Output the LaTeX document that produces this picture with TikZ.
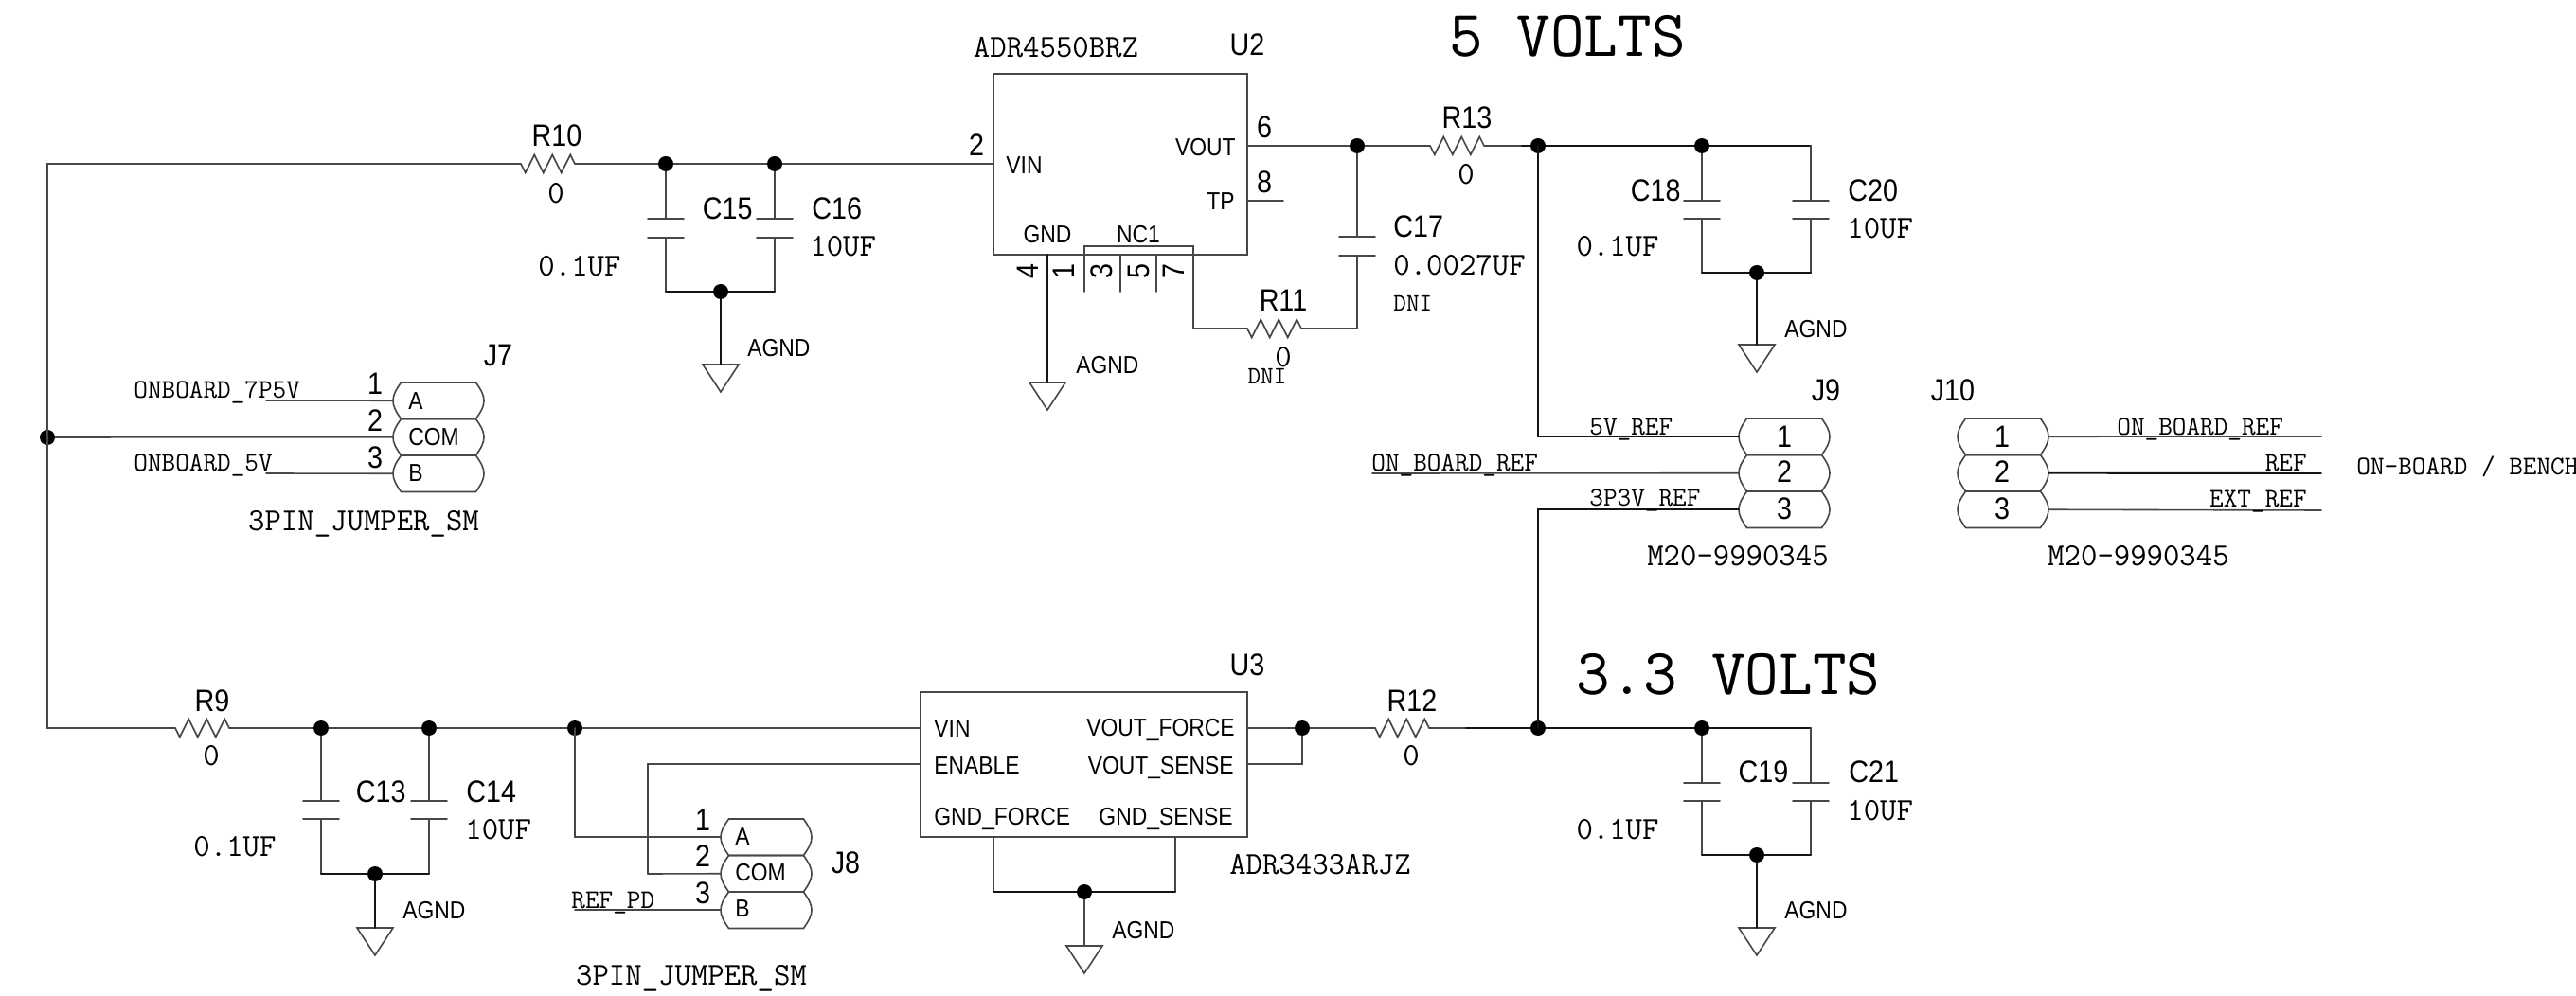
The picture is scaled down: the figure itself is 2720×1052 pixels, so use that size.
\documentclass[tikz,border=0pt]{standalone}
\usepackage{fontspec}
\setmainfont[FakeStretch=0.88]{Liberation Sans}
\tikzset{
  wire/.style={line width=0.8pt,draw=black!72,line cap=round,line join=miter},
  wireb/.style={line width=0.95pt,draw=black!92,line cap=round},
  dot/.style={circle,fill=black,inner sep=0pt,minimum size=8pt},
  chip/.style={draw=black!72,line width=0.8pt,fill=none,inner sep=0pt},
  sl/.style={font=\fontsize{16.3}{18}\selectfont,text height=11.67pt,text depth=0pt,inner sep=0pt},
  ss/.style={font=\fontsize{13}{14}\selectfont,text height=9.31pt,text depth=0pt,inner sep=0pt},
  tS/.style={font=\ttfamily\fontsize{14.2}{15}\selectfont,text height=8.68pt,text depth=0pt,inner sep=0pt},
  tM/.style={font=\ttfamily\fontsize{16.9}{18}\selectfont,text height=10.33pt,text depth=0pt,inner sep=0pt},
  tB/.style={font=\ttfamily\fontsize{34.6}{36}\selectfont,text height=21.1pt,text depth=0pt,inner sep=0pt},
  tD/.style={font=\ttfamily\fontsize{13.2}{15}\selectfont,text height=8.06pt,text depth=0pt,inner sep=0pt},
}
\newcommand\resistor[3]{%
  \begin{scope}[shift={(#2,#3)}]
    \coordinate (#1-l) at (0,0);
    \coordinate (#1-r) at (57,0);
    \draw[wire] (#1-l) -- (4.75,9.5) -- (14.25,-9.5) -- (23.75,9.5) -- (33.25,-9.5) -- (42.75,9.5) -- (52.25,-9.5) -- (#1-r);
  \end{scope}}
\newcommand\capac[4]{%
  \coordinate (#1-t) at (#2,#3);
  \coordinate (#1-b) at (#2,#4);
  \begin{scope}[shift={(#2,0)}]
    \draw[wire] (-19,#3) -- (19,#3);
    \draw[wire] (-19,#4) -- (19,#4);
  \end{scope}}
\newcommand\gndsym[3]{%
  \coordinate (#1) at (#2,#3);
  \begin{scope}[shift={(#2,#3)}]
    \draw[wire] (-19,0) -- (19,0) -- (0,29) -- cycle;
  \end{scope}}
\newcommand\pillrow[3]{%
  \begin{scope}[shift={(#2,#3)}]
    \coordinate (#1-l) at (0,19.25);
    \coordinate (#1-r) at (96,19.25);
    \draw[wire] (8.5,0) -- (87.5,0) .. controls (93,8) and (96,13) .. (96,19.25) .. controls (96,25.5) and (93,30.5) .. (87.5,38.5) -- (8.5,38.5) .. controls (3,30.5) and (0,25.5) .. (0,19.25) .. controls (0,13) and (3,8) .. (8.5,0) -- cycle;
  \end{scope}}
\begin{document}
\begin{tikzpicture}[x=0.5pt,y=-0.5pt]
\path[use as bounding box,fill=white] (0,0) rectangle (2720,1052);

% --- chips
\node[chip,minimum width=134pt,minimum height=95.5pt] (U2) at (1183,173.5) {};
\node[chip,minimum width=172.5pt,minimum height=76.5pt] (U3) at (1144.5,807.5) {};

% --- symbols
\resistor{R10}{550}{173}
\resistor{R13}{1510}{154}
\resistor{R11}{1317}{347}
\resistor{R9}{185}{769}
\resistor{R12}{1452}{769}
\capac{C15}{703}{231}{251}
\capac{C16}{818}{231}{251}
\capac{C17}{1433}{250}{270}
\capac{C18}{1797}{212}{231}
\capac{C20}{1912}{212}{231}
\capac{C13}{339}{846}{865}
\capac{C14}{453}{846}{865}
\capac{C19}{1797}{827}{846}
\capac{C21}{1912}{827}{846}
\gndsym{G1}{761}{385}
\gndsym{G2}{1106}{404}
\gndsym{G3}{1855}{364}
\gndsym{G4}{396}{980}
\gndsym{G5}{1145}{999}
\gndsym{G6}{1855}{980}
\pillrow{J7a}{415}{404}
\pillrow{J7b}{415}{442.5}
\pillrow{J7c}{415}{481}
\pillrow{J8a}{761}{865}
\pillrow{J8b}{761}{903.5}
\pillrow{J8c}{761}{942}
\pillrow{J9a}{1836}{442}
\pillrow{J9b}{1836}{480.5}
\pillrow{J9c}{1836}{519}
\pillrow{J10a}{2067}{442}
\pillrow{J10b}{2067}{480.5}
\pillrow{J10c}{2067}{519}

% --- junction dots
\node[dot] (dJ7) at (50,462) {};
\node[dot] (d15) at (703,173) {};
\node[dot] (d16) at (818,173) {};
\node[dot] (d15b) at (761,308) {};
\node[dot] (d17) at (1433,154) {};
\node[dot] (d5) at (1624,154) {};
\node[dot] (d18) at (1797,154) {};
\node[dot] (d18b) at (1855,288) {};
\node[dot] (d13) at (339,769) {};
\node[dot] (d14) at (453,769) {};
\node[dot] (dv) at (607,769) {};
\node[dot] (d13b) at (396,923) {};
\node[dot] (dU3o) at (1375,769) {};
\node[dot] (dU3g) at (1145,942) {};
\node[dot] (d33) at (1624,769) {};
\node[dot] (d19) at (1797,769) {};
\node[dot] (d19b) at (1855,903) {};

% --- pin and corner coordinates
\coordinate (U2vin) at (1049,173);
\coordinate (U2vout) at (1317,154);
\coordinate (U2tp) at (1317,212);
\coordinate (tpend) at (1355,212);
\coordinate (U2gnd) at (1106,269);
\coordinate (nc3e) at (1145,308);
\coordinate (nc3c) at (1145,260);
\coordinate (nc7c) at (1260,260);
\coordinate (nc5t) at (1183,269);
\coordinate (nc5e) at (1183,308);
\coordinate (nc7t) at (1221,269);
\coordinate (nc7e) at (1221,308);
\coordinate (U3vin) at (972,769);
\coordinate (U3en) at (972,807);
\coordinate (U3vf) at (1317,769);
\coordinate (U3vs) at (1317,807);
\coordinate (U3gf) at (1049,884);
\coordinate (U3gs) at (1241,884);
\coordinate (c20c) at (1912,154);
\coordinate (c21c) at (1912,769);
\coordinate (r13b) at (1607,154);
\coordinate (r12b) at (1548,769);
\coordinate (J7aend) at (281,423);
\coordinate (J7cend) at (281,500);
\coordinate (obref) at (1449,500);
\coordinate (J8en) at (684,923);
\coordinate (j10aend) at (2451,461);
\coordinate (j10bend) at (2451,500);
\coordinate (j10cend) at (2451,539);

% --- connectors
\draw[wire] (dJ7.center) |- (R10-l);
\draw[wire] (dJ7.center) |- (R9-l);
\draw[wire] (dJ7) -- (J7b-l);
\draw[wire] (J7aend) -- (J7a-l);
\draw[wire] (J7cend) -- (J7c-l);
\draw[wire] (R10-r) -- (d15);
\draw[wire] (d15) -- (d16);
\draw[wire] (d16) -- (U2vin);
\draw[wire] (d15) -- (C15-t);
\draw[wire] (d16) -- (C16-t);
\draw[wire] (C15-b) -- (C15-b |- d15b);
\draw[wire] (C16-b) -- (C16-b |- d15b);
\draw[wireb] (C15-b |- d15b) -- (d15b);
\draw[wireb] (C16-b |- d15b) -- (d15b);
\draw[wireb] (d15b) -- (G1);
\draw[wire] (U2vout) -- (d17);
\draw[wire] (d17) -- (R13-l);
\draw[wire] (R13-r) -- (r13b);
\draw[wireb] (r13b) -- (d5);
\draw[wireb] (d5) -- (d18);
\draw[wireb] (d18) -- (c20c);
\draw[wire] (c20c) -- (C20-t);
\draw[wire] (d18) -- (C18-t);
\draw[wire] (C18-b) -- (C18-b |- d18b);
\draw[wire] (C20-b) -- (C20-b |- d18b);
\draw[wireb] (C18-b |- d18b) -- (d18b);
\draw[wireb] (C20-b |- d18b) -- (d18b);
\draw[wireb] (d18b) -- (G3);
\draw[wire] (U2tp) -- (tpend);
\draw[wire] (d17) -- (C17-t);
\draw[wire] (C17-b) |- (R11-r);
\draw[wireb] (U2gnd) -- (G2);
\draw[wire] (nc3e) -- (nc3c) -- (nc7c) |- (R11-l);
\draw[wire] (nc5t) -- (nc5e);
\draw[wire] (nc7t) -- (nc7e);
\draw[wireb] (d5.center) |- (J9a-l);
\draw[wire] (obref) -- (J9b-l);
\draw[wireb] (d33.center) |- (J9c-l);
\draw[wire] (J10a-r) -- (j10aend);
\draw[wireb] (J10b-r) -- (j10bend);
\draw[wire] (J10c-r) -- (j10cend);
\draw[wire] (R9-r) -- (d13);
\draw[wire] (d13) -- (d14);
\draw[wire] (d14) -- (dv);
\draw[wire] (dv) -- (U3vin);
\draw[wire] (d13) -- (C13-t);
\draw[wire] (d14) -- (C14-t);
\draw[wire] (C13-b) -- (C13-b |- d13b);
\draw[wire] (C14-b) -- (C14-b |- d13b);
\draw[wireb] (C13-b |- d13b) -- (d13b);
\draw[wireb] (C14-b |- d13b) -- (d13b);
\draw[wireb] (d13b) -- (G4);
\draw[wire] (dv.center) |- (J8a-l);
\draw[wire] (J8en) -- (J8b-l);
\draw[wire] (J8en) |- (U3en);
\draw[wire] (dv.center |- J8c-l) -- (J8c-l);
\draw[wire] (U3vf) -- (dU3o);
\draw[wire] (U3vs) -| (dU3o);
\draw[wire] (dU3o) -- (R12-l);
\draw[wire] (R12-r) -- (r12b);
\draw[wireb] (r12b) -- (d33);
\draw[wireb] (d33) -- (d19);
\draw[wireb] (d19) -- (c21c);
\draw[wire] (c21c) -- (C21-t);
\draw[wire] (d19) -- (C19-t);
\draw[wire] (C19-b) -- (C19-b |- d19b);
\draw[wire] (C21-b) -- (C21-b |- d19b);
\draw[wireb] (C19-b |- d19b) -- (d19b);
\draw[wireb] (C21-b |- d19b) -- (d19b);
\draw[wireb] (d19b) -- (G6);
\draw[wire] (U3gf) -- (U3gf |- dU3g);
\draw[wire] (U3gs) -- (U3gs |- dU3g);
\draw[wireb] (U3gf |- dU3g) -- (dU3g);
\draw[wireb] (U3gs |- dU3g) -- (dU3g);
\draw[wire] (dU3g) -- (G5);

% --- big titles
\node[tB,anchor=center] (t5v) at (1655,38) {5 VOLTS};
\node[tB,anchor=center] (t33v) at (1825,712) {3.3 VOLTS};

% --- R / C designators and values
\node[sl] (tR10) at (588,143) {R10};
\node[tM] (vR10) at (587,204) {0};
\node[sl] (tR13) at (1549,124) {R13};
\node[tM] (vR13) at (1548,184) {0};
\node[sl] (tR11) at (1355,317) {R11};
\node[tM] (vR11) at (1355,377) {0};
\node[tD] (dR11) at (1338,397) {DNI};
\node[sl] (tR9) at (224,740) {R9};
\node[tM] (vR9) at (223,798) {0};
\node[sl] (tR12) at (1491,740) {R12};
\node[tM] (vR12) at (1490,798) {0};

\node[sl,anchor=east] (tC15) at (795,220) {C15};
\node[sl,anchor=west] (tC16) at (857,220) {C16};
\node[tM,anchor=west] (vC16) at (855,260) {10UF};
\node[tM] (vC15) at (612,281) {0.1UF};
\node[sl,anchor=west] (tC17) at (1471,239) {C17};
\node[tM,anchor=west] (vC17) at (1471,280) {0.0027UF};
\node[tD,anchor=west] (dC17) at (1471,320) {DNI};
\node[sl,anchor=east] (tC18) at (1775,201) {C18};
\node[tM] (vC18) at (1708,260) {0.1UF};
\node[sl,anchor=west] (tC20) at (1951,201) {C20};
\node[tM,anchor=west] (vC20) at (1950,241) {10UF};
\node[sl,anchor=east] (tC13) at (429,836) {C13};
\node[sl,anchor=west] (tC14) at (492,836) {C14};
\node[tM,anchor=west] (vC14) at (491,876) {10UF};
\node[tM] (vC13) at (248,894) {0.1UF};
\node[sl] (tC19) at (1862,815) {C19};
\node[sl,anchor=west] (tC21) at (1952,815) {C21};
\node[tM,anchor=west] (vC21) at (1950,856) {10UF};
\node[tM] (vC19) at (1708,876) {0.1UF};

% --- AGND
\node[ss,anchor=west] (a1) at (789,367) {AGND};
\node[ss,anchor=west] (a2) at (1136,385) {AGND};
\node[ss,anchor=west] (a3) at (1884,347) {AGND};
\node[ss,anchor=west] (a4) at (425,961) {AGND};
\node[ss,anchor=west] (a5) at (1174,982) {AGND};
\node[ss,anchor=west] (a6) at (1884,961) {AGND};

% --- U2
\node[tM] (pU2) at (1115,50) {ADR4550BRZ};
\node[sl] (nU2) at (1317,47) {U2};
\node[ss,anchor=west] (lvin) at (1062,174) {VIN};
\node[ss,anchor=east] (lvout) at (1305,155) {VOUT};
\node[ss,anchor=east] (ltp) at (1304,212) {TP};
\node[ss] (lgnd) at (1106,247) {GND};
\node[ss] (lnc) at (1202,247) {NC1};
\node[sl] (p2) at (1031,153) {2};
\node[sl] (p6) at (1335,134) {6};
\node[sl] (p8) at (1335,192) {8};
\node[sl,rotate=90] (p4) at (1085,287) {4};
\node[sl,rotate=90] (p1) at (1123,287) {1};
\node[sl,rotate=90] (p3) at (1163,287) {3};
\node[sl,rotate=90] (p5) at (1202,287) {5};
\node[sl,rotate=90] (p7) at (1239,287) {7};

% --- U3
\node[sl] (nU3) at (1317,702) {U3};
\node[tM] (pU3) at (1394,913) {ADR3433ARJZ};
\node[ss,anchor=west] (l3a) at (986,769) {VIN};
\node[ss,anchor=west] (l3b) at (986,808) {ENABLE};
\node[ss,anchor=west] (l3c) at (986,862) {GND\_FORCE};
\node[ss,anchor=east] (l3d) at (1304,768) {VOUT\_FORCE};
\node[ss,anchor=east] (l3e) at (1303,808) {VOUT\_SENSE};
\node[ss,anchor=east] (l3f) at (1302,862) {GND\_SENSE};

% --- J7
\node[sl] (nJ7) at (526,375) {J7};
\node[sl] (j71) at (396,405) {1};
\node[sl] (j72) at (396,444) {2};
\node[sl] (j73) at (396,483) {3};
\node[ss,anchor=west] (j7A) at (431,423) {A};
\node[ss,anchor=west] (j7C) at (431,461) {COM};
\node[ss,anchor=west] (j7B) at (431,499) {B};
\node[tS,anchor=west] (s7a) at (141,412) {ONBOARD\_7P5V};
\node[tS,anchor=west] (s7c) at (141,489) {ONBOARD\_5V};
\node[tM] (pJ7) at (384,550) {3PIN\_JUMPER\_SM};

% --- J8
\node[sl] (nJ8) at (893,911) {J8};
\node[sl] (j81) at (742,866) {1};
\node[sl] (j82) at (742,904) {2};
\node[sl] (j83) at (742,943) {3};
\node[ss,anchor=west] (j8A) at (776,883) {A};
\node[ss,anchor=west] (j8C) at (776,921) {COM};
\node[ss,anchor=west] (j8B) at (776,959) {B};
\node[tS,anchor=west] (s8c) at (603,951) {REF\_PD};
\node[tM] (pJ8) at (730,1030) {3PIN\_JUMPER\_SM};

% --- J9 / J10
\node[sl] (nJ9) at (1928,412) {J9};
\node[sl] (nJ10) at (2062,412) {J10};
\node[sl] (j91) at (1884,461) {1};
\node[sl] (j92) at (1884,498) {2};
\node[sl] (j93) at (1884,537) {3};
\node[sl] (j101) at (2114,461) {1};
\node[sl] (j102) at (2114,498) {2};
\node[sl] (j103) at (2114,537) {3};
\node[tS,anchor=west] (s5v) at (1678,451) {5V\_REF};
\node[tS,anchor=west] (sob) at (1448,489) {ON\_BOARD\_REF};
\node[tS,anchor=west] (s33) at (1678,526) {3P3V\_REF};
\node[tS,anchor=west] (r1) at (2235,451) {ON\_BOARD\_REF};
\node[tS,anchor=east] (r2) at (2436,489) {REF};
\node[tS,anchor=east] (r3) at (2436,527) {EXT\_REF};
\node[tS,anchor=west] (r4) at (2488,493) {ON-BOARD / BENCH};
\node[tM] (pJ9) at (1835,587) {M20-9990345};
\node[tM] (pJ10) at (2258,587) {M20-9990345};
\end{tikzpicture}
\end{document}
